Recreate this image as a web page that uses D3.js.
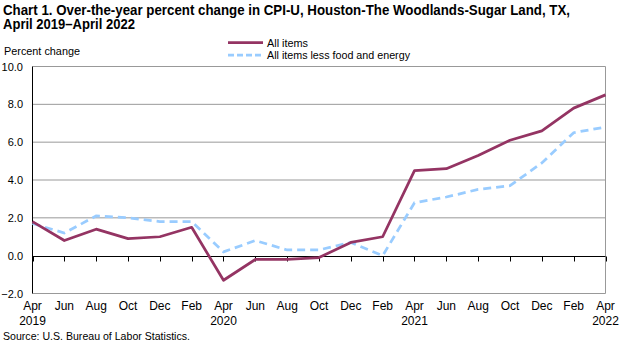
<!DOCTYPE html>
<html>
<head>
<meta charset="utf-8">
<script src="https://cdn.jsdelivr.net/npm/d3@7"></script>
<style>
  body { margin: 0; background: #fff; }
  svg { font-family: "Liberation Sans", Arial, sans-serif; }
</style>
</head>
<body>
<svg id="chart" width="625" height="346"></svg>
<script>
// bimonthly, Apr 2019 .. Apr 2022
const months = ["Apr", "Jun", "Aug", "Oct", "Dec", "Feb", "Apr", "Jun", "Aug", "Oct",
                "Dec", "Feb", "Apr", "Jun", "Aug", "Oct", "Dec", "Feb", "Apr"];
const years = ["2019", "", "", "", "", "", "2020", "", "", "", "", "", "2021", "", "", "", "", "", "2022"];
const allItems = [1.8, 0.8, 1.4, 0.9, 1.0, 1.5, -1.3, -0.2, -0.2, -0.1,
                  0.7, 1.0, 4.5, 4.6, 5.3, 6.1, 6.6, 7.8, 8.5];
const coreItems = [1.7, 1.2, 2.1, 2.0, 1.8, 1.8, 0.2, 0.8, 0.3, 0.3,
                   0.7, 0.0, 2.8, 3.1, 3.5, 3.7, 4.9, 6.5, 6.8];
const yTicks = [-2, 0, 2, 4, 6, 8, 10];

const svg = d3.select('#chart');
const plotL = 32.5, plotR = 605.5, plotT = 66.5, plotB = 293.5;

const x = d3.scaleLinear().domain([0, months.length - 1]).range([plotL, plotR]);
const y = d3.scaleLinear().domain([-2, 10]).range([plotB, plotT]);

// title
const title = svg.append('g').attr('font-weight', 'bold').attr('font-size', 14).attr('fill', '#000');
title.append('text').attr('x', 3).attr('y', 14.5)
    .attr('textLength', 567).attr('lengthAdjust', 'spacingAndGlyphs')
    .text('Chart 1. Over-the-year percent change in CPI-U, Houston-The  Woodlands-Sugar Land, TX,');
title.append('text').attr('x', 3).attr('y', 29)
    .attr('textLength', 132).attr('lengthAdjust', 'spacingAndGlyphs')
    .text('April 2019\u2013April  2022');

svg.append('text').attr('x', 4).attr('y', 54.5).attr('font-size', 11)
    .attr('textLength', 76).attr('lengthAdjust', 'spacingAndGlyphs')
    .text('Percent change');

// gridlines
svg.append('g').selectAll('line')
    .data(yTicks.filter(d => d !== 0))
    .join('line')
    .attr('x1', plotL).attr('x2', plotR)
    .attr('y1', d => y(d)).attr('y2', d => y(d))
    .attr('stroke', '#999').attr('stroke-width', 1);

// right border
svg.append('line')
    .attr('x1', plotR).attr('x2', plotR).attr('y1', plotT).attr('y2', plotB)
    .attr('stroke', '#999');

// left axis
svg.append('line')
    .attr('x1', plotL).attr('x2', plotL).attr('y1', plotT).attr('y2', plotB)
    .attr('stroke', '#000');

svg.append('g').attr('font-size', 11).attr('text-anchor', 'end')
    .selectAll('text').data(yTicks).join('text')
    .attr('x', 23).attr('y', d => y(d) + 4)
    .text(d => d3.format('.1f')(d));

// zero line with ticks
const zy = Math.round(y(0)) + 0.5;
svg.append('line')
    .attr('x1', plotL).attr('x2', plotR).attr('y1', zy).attr('y2', zy)
    .attr('stroke', '#000');
svg.append('g').selectAll('line').data(months.map((m, i) => i)).join('line')
    .attr('x1', d => Math.round(x(d)) + 0.5).attr('x2', d => Math.round(x(d)) + 0.5)
    .attr('y1', zy).attr('y2', zy + 5)
    .attr('stroke', '#000');

// x labels: month, year underneath where it changes
const xl = svg.append('g').attr('font-size', 12).attr('text-anchor', 'middle');
xl.selectAll('text.m').data(months).join('text').attr('class', 'm')
    .attr('x', (d, i) => x(i)).attr('y', 310)
    .text(d => d);
xl.selectAll('text.yr').data(years).join('text').attr('class', 'yr')
    .attr('x', (d, i) => x(i)).attr('y', 325)
    .text(d => d);

// series
const line = d3.line().x((d, i) => x(i)).y(d => y(d));
svg.append('path').datum(coreItems)
    .attr('d', line).attr('fill', 'none')
    .attr('stroke', '#99ccff').attr('stroke-width', 2.75)
    .attr('stroke-dasharray', '8,5');
svg.append('path').datum(allItems)
    .attr('d', line).attr('fill', 'none')
    .attr('stroke', '#943463').attr('stroke-width', 2.75)
    .attr('stroke-linejoin', 'round');

// legend
const legend = svg.append('g').attr('font-size', 11.5);
legend.append('line').attr('x1', 228).attr('x2', 263).attr('y1', 42.5).attr('y2', 42.5)
    .attr('stroke', '#943463').attr('stroke-width', 2.75);
legend.append('text').attr('x', 267).attr('y', 46.5)
    .attr('textLength', 41).attr('lengthAdjust', 'spacingAndGlyphs')
    .text('All items');
legend.append('line').attr('x1', 228).attr('x2', 263).attr('y1', 55).attr('y2', 55)
    .attr('stroke', '#99ccff').attr('stroke-width', 2.75).attr('stroke-dasharray', '6,3');
legend.append('text').attr('x', 267).attr('y', 59)
    .attr('textLength', 143).attr('lengthAdjust', 'spacingAndGlyphs')
    .text('All items less food and energy');

svg.append('text').attr('x', 3).attr('y', 340).attr('font-size', 11)
    .attr('textLength', 187).attr('lengthAdjust', 'spacingAndGlyphs')
    .text('Source: U.S. Bureau of Labor Statistics.');
</script>
</body>
</html>
